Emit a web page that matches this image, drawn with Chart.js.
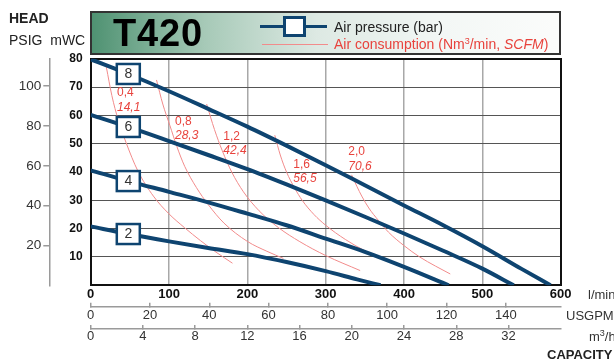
<!DOCTYPE html>
<html lang="en">

<head>
    <meta charset="UTF-8" />
    <title>T420</title>
    <style>
        body { margin: 0; background: #fff; font-family: "Liberation Sans", Arial, sans-serif; }
        #wrap { position: relative; width: 614px; height: 363px; overflow: hidden; }
        #chart { position: absolute; left: 0; top: 0; }
        .txt { position: absolute; white-space: nowrap; line-height: 1; color: #222; }
        .unit { font-size: 13px; color: #333; }
        sup { font-size: 9px; line-height: 0; vertical-align: 5px; }
        .header {
            position: absolute; left: 90px; top: 11px; width: 467px; height: 40px;
            border: 2px solid #333;
            background: linear-gradient(to right, #4f9272 0%, #a6c9b7 24%, #dde9e3 48%, #f3f7f5 75%, #fbfcfb 100%);
        }
        .legend-blue { position: absolute; left: 260px; top: 24.5px; width: 67px; height: 3px; background: #0e4470; }
        .legend-box { position: absolute; left: 283px; top: 16px; width: 17px; height: 15px; border: 3px solid #0e4470; background: #fff; }
        .legend-red { position: absolute; left: 262px; top: 43.5px; width: 66px; height: 1px; background: #f28b8b; }
    </style>
</head>

<body>
    <div id="wrap">
        <canvas id="chart" width="614" height="363"></canvas>
        <div class="header"></div>
        <div class="txt" style="left:113px; top:14px; font-size:38px; font-weight:bold; color:#000; letter-spacing:0.8px;">T420</div>
        <div class="legend-blue"></div>
        <div class="legend-box"></div>
        <div class="legend-red"></div>
        <div class="txt" style="left:334px; top:20px; font-size:14px;">Air pressure (bar)</div>
        <div class="txt" style="left:334px; top:37px; font-size:14px; color:#e8433d;">Air consumption (Nm<sup>3</sup>/min, <i>SCFM</i>)</div>
        <div class="txt" style="left:9px; top:11px; font-size:14px; font-weight:bold;">HEAD</div>
        <div class="txt" style="left:9px; top:33px; font-size:14px;">PSIG&nbsp; mWC</div>
        <div class="txt unit" style="left:588px; top:288px;">l/min</div>
        <div class="txt unit" style="left:566px; top:309px;">USGPM</div>
        <div class="txt unit" style="left:589px; top:330px;">m<sup>3</sup>/h</div>
        <div class="txt" style="left:547px; top:348px; font-size:13px; font-weight:bold;">CAPACITY</div>
    </div>
    <script src="https://cdn.jsdelivr.net/npm/chart.js@4.4.0/dist/chart.umd.min.js"></script>
    <script>
        // flow in l/min, head in mWC
        const pressureBars = ['8', '6', '4', '2']
        const flow8 = [0, 48, 100, 150, 200, 250, 300, 350, 400, 450, 500, 550, 587]
        const head8 = [79.8, 74.6, 68.5, 62.3, 56, 49.3, 42.4, 35.3, 28.2, 21.2, 13.8, 5.8, 0]
        const flow6 = [0, 48, 100, 150, 200, 250, 300, 350, 400, 450, 500, 540]
        const head6 = [60.2, 55.9, 50.9, 46, 41, 35.6, 30, 24.2, 18.3, 12.2, 5.9, 0]
        const flow4 = [0, 48, 100, 150, 200, 250, 300, 350, 400, 457]
        const head4 = [40.6, 36.8, 33, 29.3, 25.3, 21.2, 16.5, 11.8, 6.5, 0]
        const flow2 = [0, 48, 100, 150, 200, 250, 300, 340, 370]
        const head2 = [20.8, 18.1, 15.5, 13.2, 11, 8.2, 5.0, 2.1, 0]
        const boxIndex = 1 // the point where the bar box sits

        // air consumption curves (Nm3/min, SCFM)
        const airNm3 = ['0,4', '0,8', '1,2', '1,6', '2,0']
        const airScfm = ['14,1', '28,3', '42,4', '56,5', '70,6']
        const air04Flow = [20, 27, 35, 45, 60, 80, 100, 120, 140, 160, 181]
        const air04Head = [77, 67, 58.5, 50.5, 40.5, 31.5, 25.2, 20.3, 15.8, 11.7, 7.8]
        const air08Flow = [84, 92, 101, 110, 120, 135, 150, 170, 200, 225, 246]
        const air08Head = [72.5, 64, 56.5, 49, 42, 34.5, 28.5, 22, 15.5, 12, 9.5]
        const air12Flow = [148, 158, 168, 180, 195, 215, 240, 267, 300, 344]
        const air12Head = [64, 55, 47.5, 40, 33, 26.3, 20.3, 15.4, 10.5, 5.2]
        const air16Flow = [235, 242, 250, 260, 270, 285, 300, 325, 350, 385, 420]
        const air16Head = [53, 46, 40, 34.5, 30, 25, 21.2, 16.2, 12.2, 8, 4.8]
        const air20Flow = [333, 340, 346, 355, 367, 380, 400, 420, 440, 459]
        const air20Head = [39, 34.8, 31.5, 27.3, 23, 18.8, 14, 10, 6.8, 4]
        const airLabelFlow = [33.6, 107.6, 169.3, 258.6, 328.9]
        const airLabelHead = [67.9, 57.9, 52.6, 42.6, 47]

        const LPM_PER_USGPM = 3.785
        const LPM_PER_M3H = 1000 / 60
        const M_PER_PSI = 0.70307

        const blue = '#0e4470'
        const red = '#f28b8b'
        const fontFamily = '"Liberation Sans", Arial, sans-serif'
        Chart.defaults.font.family = fontFamily

        function points(xs, ys) {
            return xs.map((v, i) => ({ x: v, y: ys[i] }))
        }

        let datasets = []
        const pressureData = [[flow8, head8], [flow6, head6], [flow4, head4], [flow2, head2]]
        pressureData.forEach((pair, i) => {
            datasets.push({
                label: pressureBars[i] + ' bar',
                boxLabel: pressureBars[i],
                data: points(pair[0], pair[1]),
                borderColor: blue,
                borderWidth: 4,
                pointRadius: 0,
                cubicInterpolationMode: 'monotone',
                order: 0
            })
        })
        const airData = [[air04Flow, air04Head], [air08Flow, air08Head], [air12Flow, air12Head],
                         [air16Flow, air16Head], [air20Flow, air20Head]]
        airData.forEach((pair, i) => {
            datasets.push({
                label: airNm3[i] + ' Nm3/min',
                data: points(pair[0], pair[1]),
                borderColor: red,
                borderWidth: 1,
                pointRadius: 0,
                cubicInterpolationMode: 'monotone',
                order: 1
            })
        })

        const sheetMarks = {
            id: 'sheetMarks',
            afterDatasetsDraw(chart) {
                const ctx = chart.ctx
                const x = chart.scales.x
                const y = chart.scales.y
                ctx.save()
                ctx.textBaseline = 'middle'
                ctx.textAlign = 'left'
                ctx.fillStyle = '#e8433d'
                airNm3.forEach((t, i) => {
                    const px = x.getPixelForValue(airLabelFlow[i])
                    const py = y.getPixelForValue(airLabelHead[i])
                    ctx.font = '12px ' + fontFamily
                    ctx.fillText(t, px, py)
                    ctx.font = 'italic 12px ' + fontFamily
                    ctx.fillText(airScfm[i], px, py + 14.5)
                })
                chart.data.datasets.forEach((ds, i) => {
                    if (!ds.boxLabel) return
                    const pt = chart.getDatasetMeta(i).data[boxIndex]
                    ctx.fillStyle = '#fff'
                    ctx.strokeStyle = blue
                    ctx.lineWidth = 2.5
                    ctx.fillRect(pt.x - 11.5, pt.y - 10, 23, 20)
                    ctx.strokeRect(pt.x - 11.5, pt.y - 10, 23, 20)
                    ctx.fillStyle = '#333'
                    ctx.font = '14px ' + fontFamily
                    ctx.textAlign = 'center'
                    ctx.fillText(ds.boxLabel, pt.x, pt.y + 0.5)
                    ctx.textAlign = 'left'
                })
                ctx.restore()
            }
        }

        const ctx = document.getElementById('chart').getContext('2d')
        const chart = new Chart(ctx, {
            type: 'line',
            data: { datasets: datasets },
            plugins: [sheetMarks],
            options: {
                responsive: false,
                animation: false,
                layout: { padding: { left: 0, right: 53.3, top: 58.7, bottom: 14 } },
                plugins: { legend: { display: false }, tooltip: { enabled: false } },
                scales: {
                    x: {
                        type: 'linear', position: 'bottom', weight: 0, min: 0, max: 600,
                        ticks: { stepSize: 100, padding: 1, color: '#111', font: { size: 13, weight: 'bold' } },
                        grid: { color: '#a8a8a8', lineWidth: 1.5, drawTicks: false },
                        border: { color: '#111', width: 2 },
                        afterFit: s => { s.height = 21.4 }
                    },
                    usg: {
                        type: 'linear', position: 'bottom', weight: 1, min: 0, max: 600 / LPM_PER_USGPM,
                        ticks: { stepSize: 20, includeBounds: false, padding: 4.5, color: '#333', font: { size: 13 } },
                        grid: { drawOnChartArea: false, tickLength: -4, color: '#9a9a9a', lineWidth: 1.5 },
                        border: { color: '#9a9a9a', width: 1.5 },
                        afterFit: s => { s.height = 22.3 }
                    },
                    m3h: {
                        type: 'linear', position: 'bottom', weight: 2, min: 0, max: 600 / LPM_PER_M3H,
                        ticks: {
                            stepSize: 4, padding: 3.9, color: '#333', font: { size: 13 },
                            callback: v => (v >= 36 ? null : v)
                        },
                        grid: { drawOnChartArea: false, tickLength: -4, color: '#9a9a9a', lineWidth: 1.5 },
                        border: { color: '#9a9a9a', width: 1.5 },
                        afterFit: s => { s.height = 20 }
                    },
                    top: {
                        type: 'linear', position: 'top', min: 0, max: 600,
                        ticks: { display: false },
                        grid: { drawOnChartArea: false, drawTicks: false },
                        border: { color: '#111', width: 2 },
                        afterFit: s => { s.height = 0 }
                    },
                    y: {
                        type: 'linear', position: 'left', weight: 0, min: 0, max: 80,
                        ticks: {
                            stepSize: 10, padding: 8, color: '#111', font: { size: 12, weight: 'bold' },
                            callback: v => (v === 0 ? '' : v)
                        },
                        grid: { color: '#555', lineWidth: 1, drawTicks: false },
                        border: { color: '#111', width: 2 },
                        afterFit: s => { s.width = 41.4 }
                    },
                    psig: {
                        type: 'linear', position: 'left', weight: 1, min: 0, max: 80 / M_PER_PSI,
                        ticks: {
                            stepSize: 20, includeBounds: false, padding: 2, color: '#333', font: { size: 13.5 },
                            callback: v => (v === 0 ? null : v)
                        },
                        grid: { drawOnChartArea: false, tickLength: 6, color: '#9a9a9a', lineWidth: 1.5 },
                        border: { color: '#9a9a9a', width: 1.5 },
                        afterFit: s => { s.width = 49.3 }
                    },
                    right: {
                        type: 'linear', position: 'right', min: 0, max: 80,
                        ticks: { display: false },
                        grid: { drawOnChartArea: false, drawTicks: false },
                        border: { color: '#111', width: 2 },
                        afterFit: s => { s.width = 0 }
                    }
                }
            }
        });
    </script>
</body>

</html>
